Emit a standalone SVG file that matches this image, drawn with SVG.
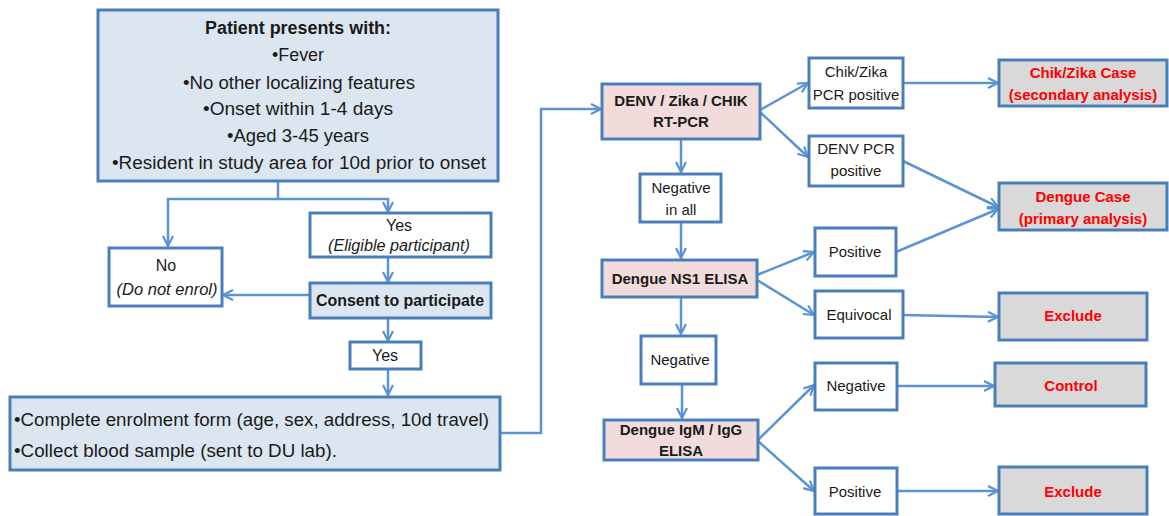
<svg xmlns="http://www.w3.org/2000/svg" width="1169" height="516" viewBox="0 0 1169 516">
<style>
.bx{stroke:#4a7ebb;stroke-width:3}
.blue{fill:#dce6f1}
.pink{fill:#f2dcdb}
.grey{fill:#d9d9d9}
.white{fill:#ffffff}
text{font-family:"Liberation Sans",Arial,sans-serif;font-size:15px;fill:#1a1a1a;text-anchor:middle}
.big{font-size:17.5px}
.mid{font-size:16px}
.b{font-weight:bold}
.i{font-style:italic}
.r{fill:#ff0000;font-weight:bold}
.l{text-anchor:start}
.c path,.c line,.c polyline{stroke:#5b93d3;stroke-width:2.5;fill:none;marker-end:url(#ah)}
</style>
<defs>
<marker id="ah" viewBox="0 0 12 12" refX="11" refY="6" markerWidth="12" markerHeight="12" markerUnits="userSpaceOnUse" orient="auto">
<path d="M1,1 L11,6 L1,11" fill="none" stroke="#5b93d3" stroke-width="2.2"/>
</marker>
</defs>
<rect width="1169" height="516" fill="#ffffff"/>
<g class="c">
<polyline points="278,181 278,199 168,199 168,246" />
<polyline points="278,199 388,199 388,212" />
<line x1="388" y1="257" x2="388" y2="282"/>
<line x1="310" y1="295" x2="223" y2="295"/>
<line x1="388" y1="318" x2="388" y2="341"/>
<line x1="388" y1="369" x2="388" y2="395"/>
<polyline points="500,433 541,433 541,109 601,109"/>
<line x1="681" y1="139" x2="681" y2="172"/>
<line x1="681" y1="222" x2="681" y2="258"/>
<line x1="681" y1="297" x2="681" y2="334"/>
<line x1="682" y1="384" x2="682" y2="418"/>
<line x1="760" y1="110" x2="808" y2="83"/>
<line x1="760" y1="112" x2="808" y2="157"/>
<line x1="757" y1="275" x2="814" y2="252"/>
<line x1="757" y1="280" x2="814" y2="315"/>
<line x1="758" y1="440" x2="814" y2="385"/>
<line x1="758" y1="441" x2="814" y2="491"/>
<line x1="903" y1="83" x2="998" y2="83"/>
<line x1="903" y1="161" x2="998" y2="207"/>
<line x1="896" y1="252" x2="998" y2="209"/>
<line x1="903" y1="315" x2="998" y2="317"/>
<line x1="897" y1="386" x2="994" y2="386"/>
<line x1="897" y1="491" x2="998" y2="491"/>
</g>
<g id="patient">
<rect class="bx blue" x="98" y="10" width="400" height="171"/>
<text class="b big" x="298" y="34" textLength="186" lengthAdjust="spacingAndGlyphs">Patient presents with:</text>
<text class="big" x="298" y="61" textLength="52" lengthAdjust="spacingAndGlyphs">•Fever</text>
<text class="big" x="299" y="89" textLength="232" lengthAdjust="spacingAndGlyphs">•No other localizing features</text>
<text class="big" x="298" y="115" textLength="190" lengthAdjust="spacingAndGlyphs">•Onset within 1-4 days</text>
<text class="big" x="298" y="142" textLength="142" lengthAdjust="spacingAndGlyphs">•Aged 3-45 years</text>
<text class="big" x="299" y="169" textLength="374" lengthAdjust="spacingAndGlyphs">•Resident in study area for 10d prior to onset</text>
</g>
<g id="yes-eligible">
<rect class="bx white" x="310" y="213" width="181" height="44"/>
<text class="mid" x="399" y="231">Yes</text>
<text class="i mid" x="399" y="251" textLength="142" lengthAdjust="spacingAndGlyphs">(Eligible participant)</text>
</g>
<g id="no">
<rect class="bx white" x="109" y="248" width="113" height="58"/>
<text class="mid" x="166" y="271">No</text>
<text class="i mid" x="167" y="295" textLength="101" lengthAdjust="spacingAndGlyphs">(Do not enrol)</text>
</g>
<g id="consent">
<rect class="bx blue" x="310" y="283" width="181" height="35"/>
<text class="b mid" x="400" y="306" textLength="168" lengthAdjust="spacingAndGlyphs">Consent to participate</text>
</g>
<g id="yes2">
<rect class="bx white" x="350" y="342" width="71" height="27"/>
<text class="mid" x="385" y="361">Yes</text>
</g>
<g id="enrol">
<rect class="bx blue" x="10" y="397" width="490" height="73"/>
<text class="l big" x="14" y="426" textLength="475" lengthAdjust="spacingAndGlyphs">•Complete enrolment form (age, sex, address,  10d travel)</text>
<text class="l big" x="14" y="457" textLength="323" lengthAdjust="spacingAndGlyphs">•Collect blood sample (sent to DU lab).</text>
</g>
<g id="rtpcr">
<rect class="bx pink" x="602" y="84" width="158" height="55"/>
<text class="b" x="681" y="106">DENV / Zika / CHIK</text>
<text class="b" x="681" y="127">RT-PCR</text>
</g>
<g id="neg-all">
<rect class="bx white" x="640" y="174" width="81" height="48"/>
<text x="681" y="193">Negative</text>
<text x="681" y="215">in all</text>
</g>
<g id="ns1">
<rect class="bx pink" x="602" y="260" width="155" height="37"/>
<text class="b" x="680" y="284">Dengue NS1 ELISA</text>
</g>
<g id="neg1">
<rect class="bx white" x="641" y="336" width="75" height="48"/>
<text x="680" y="365">Negative</text>
</g>
<g id="igm">
<rect class="bx pink" x="604" y="420" width="154" height="40"/>
<text class="b" x="681" y="435">Dengue IgM / IgG</text>
<text class="b" x="681" y="456">ELISA</text>
</g>
<g id="chik-pos">
<rect class="bx white" x="809" y="58" width="94" height="50"/>
<text x="856" y="77">Chik/Zika</text>
<text x="856" y="100">PCR positive</text>
</g>
<g id="denv-pos">
<rect class="bx white" x="809" y="136" width="94" height="50"/>
<text x="856" y="154">DENV PCR</text>
<text x="856" y="176">positive</text>
</g>
<g id="ns1-pos">
<rect class="bx white" x="815" y="228" width="81" height="48"/>
<text x="855" y="257">Positive</text>
</g>
<g id="equivocal">
<rect class="bx white" x="815" y="291" width="88" height="47"/>
<text x="859" y="320">Equivocal</text>
</g>
<g id="igm-neg">
<rect class="bx white" x="815" y="363" width="82" height="47"/>
<text x="856" y="391">Negative</text>
</g>
<g id="igm-pos">
<rect class="bx white" x="815" y="468" width="82" height="46"/>
<text x="855" y="497">Positive</text>
</g>
<g id="chik-case">
<rect class="bx grey" x="999" y="60" width="168" height="46"/>
<text class="r" x="1083" y="78">Chik/Zika Case</text>
<text class="r" x="1083" y="100">(secondary analysis)</text>
</g>
<g id="dengue-case">
<rect class="bx grey" x="999" y="183" width="168" height="47"/>
<text class="r" x="1083" y="202">Dengue Case</text>
<text class="r" x="1083" y="224">(primary analysis)</text>
</g>
<g id="exclude1">
<rect class="bx grey" x="999" y="293" width="148" height="47"/>
<text class="r" x="1073" y="321">Exclude</text>
</g>
<g id="control">
<rect class="bx grey" x="995" y="363" width="151" height="43"/>
<text class="r" x="1071" y="391">Control</text>
</g>
<g id="exclude2">
<rect class="bx grey" x="999" y="467" width="148" height="47"/>
<text class="r" x="1073" y="497">Exclude</text>
</g>
</svg>
